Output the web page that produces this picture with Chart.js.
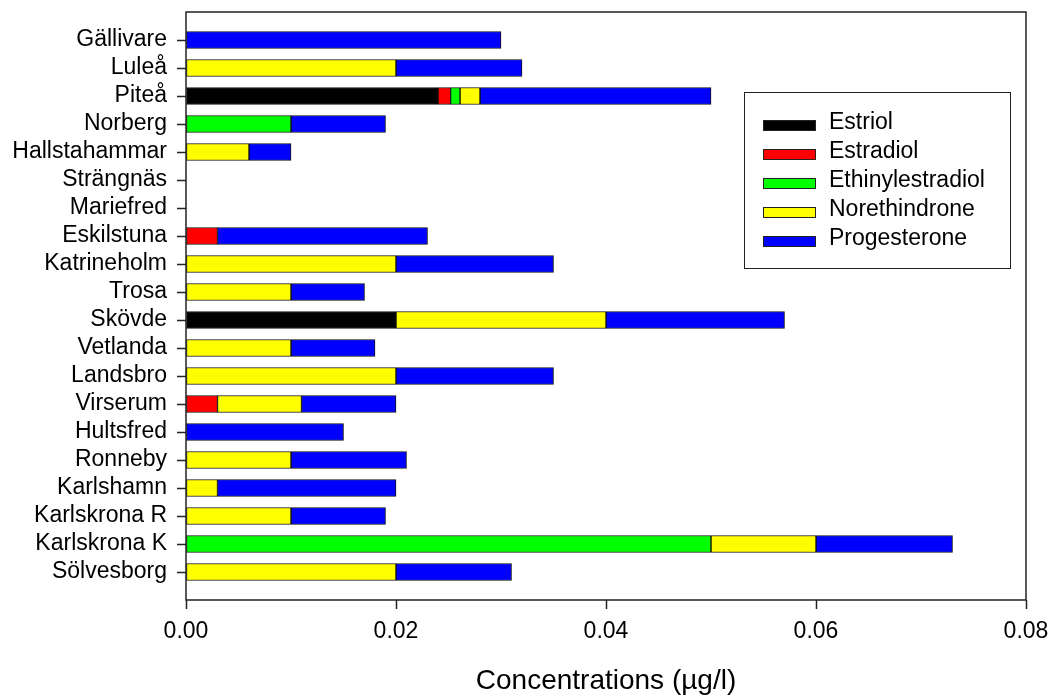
<!DOCTYPE html>
<html lang="en">
<head>
    <meta charset="UTF-8">
    <title>Hormone concentrations by site</title>
    <script src="https://cdn.jsdelivr.net/npm/chart.js@4.4.1/dist/chart.umd.min.js"></script>
    <style>
        body {
            margin: 0;
            background: #fff;
        }
        .chart-container {
            width: 1051px;
            height: 699px;
            position: relative;
        }
    </style>
</head>
<body>
    <div class="chart-container">
        <canvas id="barChart"></canvas>
    </div>

    <script>
        // sites, top to bottom
        const sites = ['Gällivare', 'Luleå', 'Piteå', 'Norberg', 'Hallstahammar', 'Strängnäs', 'Mariefred',
            'Eskilstuna', 'Katrineholm', 'Trosa', 'Skövde', 'Vetlanda', 'Landsbro', 'Virserum', 'Hultsfred',
            'Ronneby', 'Karlshamn', 'Karlskrona R', 'Karlskrona K', 'Sölvesborg'];

        // concentrations in µg/l, same order as sites (null = not detected)
        const estriol =          [null, null, 0.024, null, null, null, null, null, null, null, 0.020, null, null, null, null, null, null, null, null, null];
        const estradiol =        [null, null, 0.0012, null, null, null, null, 0.003, null, null, null, null, null, 0.003, null, null, null, null, null, null];
        const ethinylestradiol = [null, null, 0.0009, 0.010, null, null, null, null, null, null, null, null, null, null, null, null, null, null, 0.050, null];
        const norethindrone =    [null, 0.020, 0.0019, null, 0.006, null, null, null, 0.020, 0.010, 0.020, 0.010, 0.020, 0.008, null, 0.010, 0.003, 0.010, 0.010, 0.020];
        const progesterone =     [0.030, 0.012, 0.022, 0.009, 0.004, null, null, 0.020, 0.015, 0.007, 0.017, 0.008, 0.015, 0.009, 0.015, 0.011, 0.017, 0.009, 0.013, 0.011];

        const seriesNames = ['Estriol', 'Estradiol', 'Ethinylestradiol', 'Norethindrone', 'Progesterone'];
        const seriesColors = ['#000000', '#ff0000', '#00ff00', '#ffff00', '#0000ff'];
        const xTicks = [0, 0.02, 0.04, 0.06, 0.08];

        const FONT = "'Liberation Sans', Arial, sans-serif";

        // one empty slot above and below the sites, like the original plot
        const labels = [''].concat(sites, ['']);
        const pad = arr => [null].concat(arr, [null]);

        const datasets = [estriol, estradiol, ethinylestradiol, norethindrone, progesterone].map((arr, i) => ({
            label: seriesNames[i],
            data: pad(arr),
            backgroundColor: seriesColors[i],
            borderColor: '#111',
            borderWidth: 1,
            borderSkipped: false,
            barThickness: 17
        }));

        // plot frame + boxed legend inside the plot
        const framePlugin = {
            id: 'frame',
            afterDatasetsDraw(chart) {
                const { ctx, chartArea } = chart;
                ctx.save();
                ctx.strokeStyle = '#222';
                ctx.lineWidth = 1.5;
                ctx.strokeRect(chartArea.left, chartArea.top, chartArea.right - chartArea.left, chartArea.bottom - chartArea.top);
                ctx.restore();
            },
            afterDraw(chart) {
                const { ctx, chartArea } = chart;
                const boxLeft = chartArea.right - 282;
                const boxTop = chartArea.top + 80;
                const boxW = 266;
                const boxH = 176;
                ctx.save();
                ctx.fillStyle = '#fff';
                ctx.fillRect(boxLeft, boxTop, boxW, boxH);
                ctx.strokeStyle = '#222';
                ctx.lineWidth = 1;
                ctx.strokeRect(boxLeft + 0.5, boxTop + 0.5, boxW, boxH);
                ctx.font = '23px ' + FONT;
                ctx.textBaseline = 'middle';
                ctx.textAlign = 'left';
                chart.data.datasets.forEach((ds, i) => {
                    const cy = boxTop + 30 + i * 29;
                    ctx.fillStyle = ds.backgroundColor;
                    ctx.fillRect(boxLeft + 19, cy - 2, 52, 10);
                    ctx.strokeStyle = '#222';
                    ctx.strokeRect(boxLeft + 19.5, cy - 1.5, 52, 10);
                    ctx.fillStyle = '#000';
                    ctx.fillText(ds.label, boxLeft + 85, cy + 1);
                });
                ctx.restore();
            }
        };

        const ctx = document.getElementById('barChart').getContext('2d');
        new Chart(ctx, {
            type: 'bar',
            data: {
                labels: labels,
                datasets: datasets
            },
            options: {
                indexAxis: 'y',
                responsive: true,
                maintainAspectRatio: false,
                animation: false,
                layout: {
                    padding: { left: 10, right: 25, top: 12, bottom: 0 }
                },
                scales: {
                    x: {
                        type: 'linear',
                        stacked: true,
                        min: 0,
                        max: 0.08,
                        afterBuildTicks: scale => {
                            scale.ticks = xTicks.map(v => ({ value: v }));
                        },
                        afterFit: scale => {
                            scale.height = 99;
                            scale.paddingLeft = 0;
                            scale.paddingRight = 0;
                        },
                        border: { display: false },
                        grid: {
                            display: true,
                            drawOnChartArea: false,
                            drawTicks: true,
                            tickLength: 9,
                            tickColor: '#222',
                            tickWidth: 1.5
                        },
                        ticks: {
                            color: '#000',
                            padding: 9,
                            font: { family: FONT, size: 23 },
                            callback: v => Number(v).toFixed(2)
                        },
                        title: {
                            display: true,
                            text: 'Concentrations (µg/l)',
                            color: '#000',
                            font: { family: FONT, size: 28 },
                            padding: { top: 0, bottom: 1 }
                        }
                    },
                    y: {
                        type: 'category',
                        stacked: true,
                        offset: false,
                        afterFit: scale => {
                            scale.width = 176;
                            scale.paddingTop = 0;
                            scale.paddingBottom = 0;
                        },
                        border: { display: false },
                        grid: {
                            display: true,
                            offset: false,
                            drawOnChartArea: false,
                            drawTicks: true,
                            tickLength: 9,
                            tickWidth: 1.5,
                            tickColor: c => (labels[c.index] === '' ? 'rgba(0,0,0,0)' : '#222')
                        },
                        ticks: {
                            color: '#000',
                            padding: 10,
                            autoSkip: false,
                            font: { family: FONT, size: 23 }
                        }
                    }
                },
                plugins: {
                    legend: { display: false },
                    tooltip: { enabled: false }
                }
            },
            plugins: [framePlugin]
        });
    </script>
</body>
</html>
